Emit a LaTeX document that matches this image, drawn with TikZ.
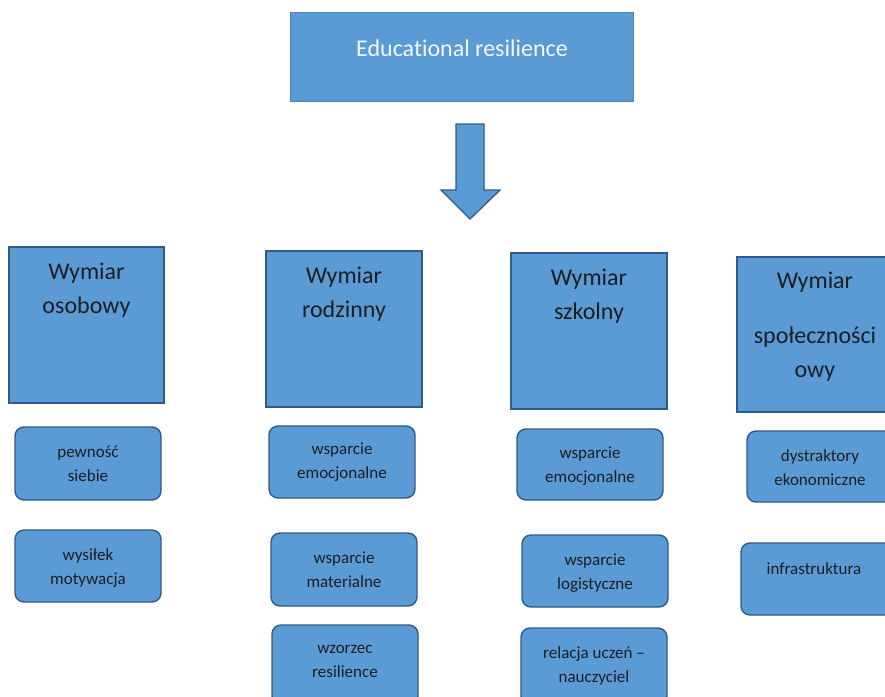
\documentclass[tikz,border=0pt]{standalone}
\usepackage{fontspec}
\setmainfont[Ligatures=NoCommon]{Carlito}
\definecolor{boxfill}{HTML}{5B9BD5}
\definecolor{boxedge}{HTML}{2F5B88}
\definecolor{topedge}{HTML}{4A82BC}
\definecolor{txt}{HTML}{1E1E1E}
\begin{document}
\begin{tikzpicture}[x=1pt,y=-1pt,
  topbox/.style={draw=topedge,line width=1pt,fill=boxfill},
  bigbox/.style={draw=boxedge,line width=1.6pt,fill=boxfill},
  smallbox/.style={draw=boxedge,line width=1.4pt,fill=boxfill,rounded corners=9pt},
  bigtxt/.style={text=txt,font=\fontsize{24}{34}\selectfont,align=center,inner sep=0pt,anchor=north},
  smalltxt/.style={text=txt,font=\fontsize{17}{24}\selectfont,align=center,inner sep=0pt,anchor=north},
  toptxt/.style={text=white!92!boxfill,font=\fontsize{24}{26}\selectfont,inner sep=0pt}]
\useasboundingbox (0,0) rectangle (885,696);
\begin{scope}
\clip (0,0) rectangle (885,696);
% top
\draw[topbox] (290,12) rectangle (633,101);
\node[toptxt] (top) at (462,48) {Educational resilience};
% arrow
\draw[draw=boxedge,line width=1.3pt,fill=boxfill,line join=miter]
  (456,124) -- (484,124) -- (484,190) -- (500,190) -- (470,219) -- (441,190) -- (456,190) -- cycle;
% big boxes
\draw[bigbox] (9,247) rectangle (164,403);
\node[bigtxt] (d1) at (86.5,263) {Wymiar\\osobowy};
\draw[bigbox] (266,251) rectangle (422,407);
\node[bigtxt] (d2) at (344,267) {Wymiar\\rodzinny};
\draw[bigbox] (511,253) rectangle (667,409);
\node[bigtxt] (d3) at (589,269) {Wymiar\\szkolny};
\draw[bigbox] (737,257) rectangle (895,412);
\node[bigtxt] (d4a) at (815,272) {Wymiar};
\node[bigtxt] (d4b) at (815,327) {społeczności\\owy};
% small boxes col 1
\draw[smallbox] (15,427) rectangle (161,500);
\node[smalltxt] (s11) at (88,446) {pewność\\siebie};
\draw[smallbox] (15,530) rectangle (161,602);
\node[smalltxt] (s12) at (88,548) {wysiłek\\motywacja};
% col 2
\draw[smallbox] (269,426) rectangle (415,498);
\node[smalltxt] (s21) at (342,443) {wsparcie\\emocjonalne};
\draw[smallbox] (271,533) rectangle (417,606);
\node[smalltxt] (s22) at (344,552) {wsparcie\\materialne};
\draw[smallbox] (272,625) rectangle (418,705);
\node[smalltxt] (s23) at (345,645) {wzorzec\\resilience};
% col 3
\draw[smallbox] (517,429) rectangle (663,500);
\node[smalltxt] (s31) at (590,447) {wsparcie\\emocjonalne};
\draw[smallbox] (522,535) rectangle (668,607);
\node[smalltxt] (s32) at (595,554) {wsparcie\\logistyczne};
\draw[smallbox] (521,628) rectangle (667,705);
\node[smalltxt] (s33) at (594,646) {relacja uczeń –\\nauczyciel};
% col 4
\draw[smallbox] (747,431) rectangle (895,502);
\node[smalltxt] (s41) at (820,449) {dystraktory\\ekonomiczne};
\draw[smallbox] (741,543) rectangle (895,615);
\node[smalltxt] (s42) at (814,562) {infrastruktura};
\end{scope}
\end{tikzpicture}
\end{document}
